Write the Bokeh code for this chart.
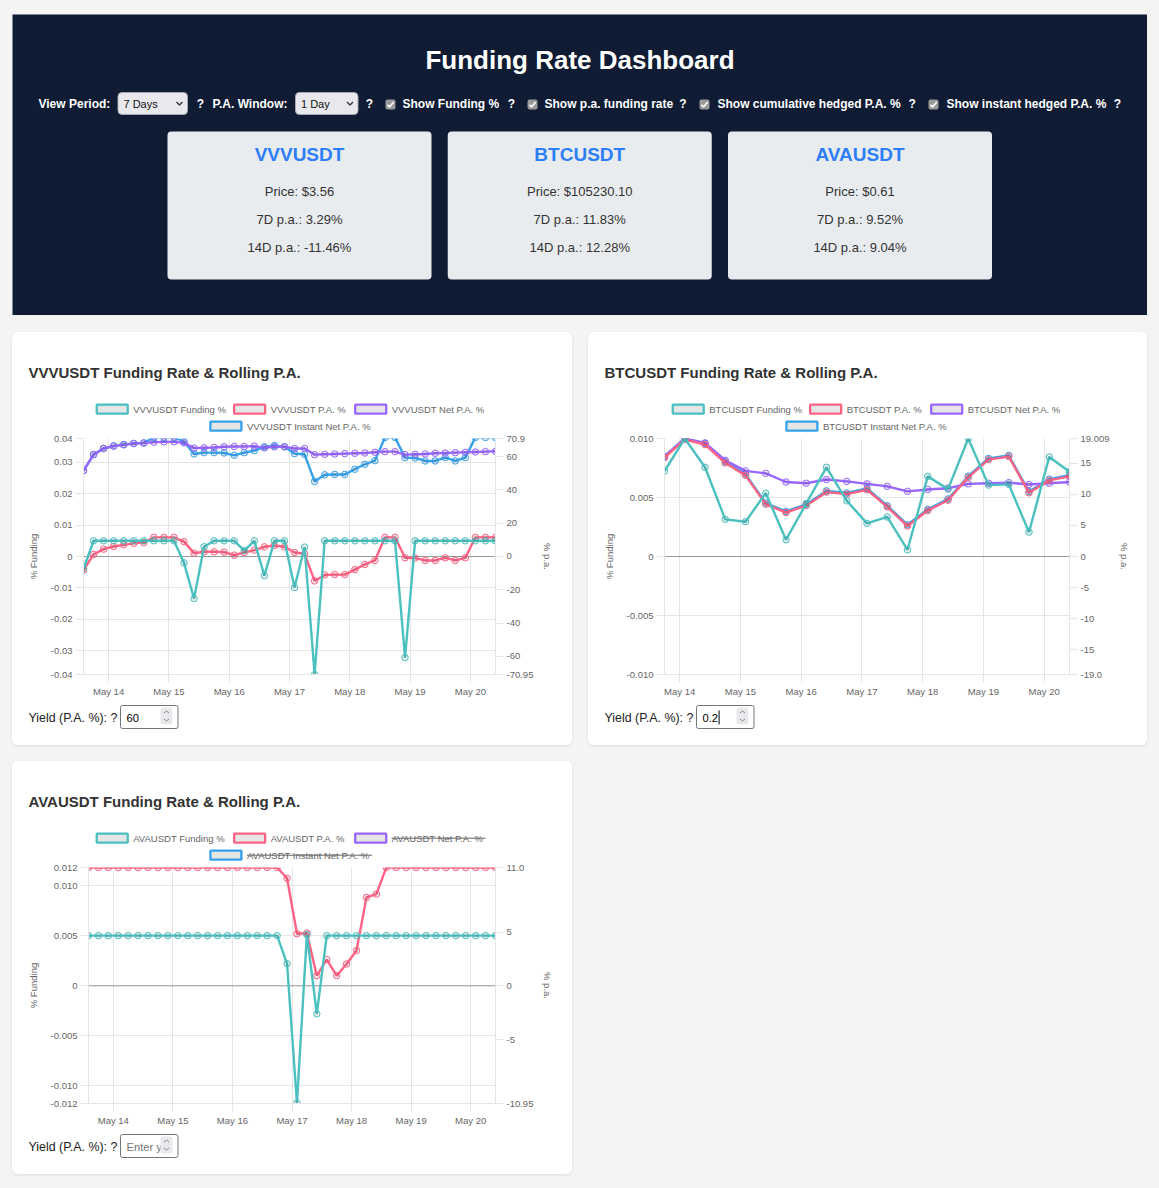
import pandas as pd
from bokeh.plotting import figure
from bokeh.layouts import column, row
from bokeh.models import (Range1d, LinearAxis, FixedTicker, DatetimeTickFormatter,
                          Span, Spacer, Plot)
from bokeh.core.properties import value
from bokeh.embed import file_html
from bokeh.resources import INLINE

FONT = "Liberation Sans"
GRID = "#e5e5e5"
TEAL, RED, PURPLE, BLUE = "#4bc0c0", "#ff6384", "#9966ff", "#36a2eb"
HAS_FA = "frame_align" in Plot.properties()
FA = {"frame_align": False} if HAS_FA else {}

# ------------------------------------------------------------------ data
symbols = ["VVVUSDT", "BTCUSDT", "AVAUSDT"]
prices = ["$3.56", "$105230.10", "$0.61"]
pa_7d = [3.29, 11.83, 9.52]
pa_14d = [-11.46, 12.28, 9.04]

view_period = "7 Days"
pa_window = "1 Day"
toggles = ["Show Funding %", "Show p.a. funding rate",
           "Show cumulative hedged P.A. %", "Show instant hedged P.A. %"]
yield_inputs = ["60", "0.2", ""]

vvv_time = pd.date_range("2025-05-13 14:00", "2025-05-20 10:00", freq="4h")
btc_time = pd.date_range("2025-05-13 18:00", "2025-05-20 10:00", freq="8h")
ava_time = pd.date_range("2025-05-13 14:00", "2025-05-20 10:00", freq="4h")
day_ticks = pd.date_range("2025-05-14", "2025-05-20", freq="D")

vvv_funding = [-0.0039, 0.005, 0.005, 0.005, 0.005, 0.005, 0.005, 0.005, 0.005, 0.005,
               -0.0020, -0.0134, 0.0031, 0.005, 0.005, 0.005, 0.0019, 0.005, -0.0061, 0.005,
               0.005, -0.0099, 0.0030, -0.0376, 0.005, 0.005, 0.005, 0.005, 0.005, 0.005,
               0.005, 0.005, -0.0322, 0.005, 0.005, 0.005, 0.005, 0.005, 0.005, 0.005,
               0.005, 0.005]
vvv_pa = [-8.3, 1.2, 4.4, 6.0, 7.0, 7.9, 8.3, 11.5, 11.5, 11.5,
          8.9, 2.0, 2.8, 2.8, 2.6, 0.8, 2.4, 3.8, 5.8, 6.6,
          5.8, 2.4, 1.6, -14.7, -11.1, -10.9, -10.9, -7.9, -4.8, -2.4,
          11.5, 11.5, -0.8, -1.0, -2.4, -2.4, -0.8, -2.4, -0.8, 11.5,
          11.5, 11.5]
vvv_net = [51.6, 61.2, 64.9, 66.3, 67.1, 67.9, 68.1, 68.7, 68.9, 68.9,
           68.3, 65.1, 65.3, 65.5, 65.9, 66.1, 66.1, 66.3, 65.3, 65.9,
           65.9, 64.9, 64.9, 61.2, 61.4, 61.6, 61.8, 62.0, 62.2, 62.6,
           63.0, 63.0, 61.2, 61.4, 61.6, 62.0, 62.2, 62.4, 62.6, 62.8,
           63.0, 63.2]
vvv_inst = [51.6, 61.2, 64.9, 66.5, 67.3, 67.9, 68.3, 71.5, 71.5, 71.5,
            69.1, 61.6, 62.4, 62.4, 62.2, 60.8, 62.4, 63.6, 65.9, 66.7,
            65.9, 61.8, 61.4, 45.1, 49.1, 49.3, 49.3, 52.4, 55.4, 57.6,
            71.5, 71.5, 59.4, 59.2, 57.4, 57.4, 59.4, 57.4, 59.4, 71.5,
            71.5, 71.5]

btc_funding = [0.00724, 0.0100, 0.00756, 0.00315, 0.00295, 0.00537, 0.00142, 0.00449,
               0.00756, 0.00472, 0.00281, 0.00335, 0.00057, 0.00679, 0.00571, 0.0100,
               0.00605, 0.00611, 0.00207, 0.00844, 0.00719]
btc_pa = [15.93, 18.85, 18.03, 15.07, 13.07, 8.42, 7.07, 8.21, 10.37, 10.04, 10.75,
          7.99, 4.91, 7.40, 9.07, 12.74, 15.60, 16.09, 10.26, 12.26, 12.91]
btc_net = [16.13, 19.0, 18.3, 15.5, 13.8, 13.4, 12.0, 11.8, 12.4, 12.1, 11.7,
           11.3, 10.5, 10.8, 11.0, 11.7, 11.8, 11.9, 11.6, 11.8, 12.0]
btc_inst = [16.13, 19.009, 18.23, 15.27, 13.27, 8.62, 7.27, 8.41, 10.57, 10.24, 10.95,
            8.19, 5.11, 7.60, 9.27, 12.94, 15.80, 16.29, 10.46, 12.46, 13.11]

ava_funding = [0.005, 0.005, 0.005, 0.005, 0.005, 0.005, 0.005, 0.005, 0.005, 0.005,
               0.005, 0.005, 0.005, 0.005, 0.005, 0.005, 0.005, 0.005, 0.005, 0.005,
               0.0022, -0.0117, 0.0051, -0.0028, 0.005, 0.005, 0.005, 0.005, 0.005, 0.005,
               0.005, 0.005, 0.005, 0.005, 0.005, 0.005, 0.005, 0.005, 0.005, 0.005,
               0.005, 0.005]
ava_pa = [11.0, 11.0, 11.0, 11.0, 11.0, 11.0, 11.0, 11.0, 11.0, 11.0,
          11.0, 11.0, 11.0, 11.0, 11.0, 11.0, 11.0, 11.0, 11.0, 11.0,
          10.0, 4.84, 4.9, 0.94, 2.44, 0.94, 2.03, 3.28, 8.22, 8.53,
          11.0, 11.0, 11.0, 11.0, 11.0, 11.0, 11.0, 11.0, 11.0, 11.0,
          11.0, 11.0]

vvv_left_ticks = [-0.0376, -0.03, -0.02, -0.01, 0.0, 0.01, 0.02, 0.03, 0.0376]
vvv_left_labels = ["-0.04", "-0.03", "-0.02", "-0.01", "0", "0.01", "0.02", "0.03", "0.04"]
vvv_right_ticks = [-70.95, -60.0, -40.0, -20.0, 0.0, 20.0, 40.0, 60.0, 70.9]
vvv_right_labels = ["-70.95", "-60", "-40", "-20", "0", "20", "40", "60", "70.9"]
btc_left_ticks = [-0.01, -0.005, 0.0, 0.005, 0.01]
btc_left_labels = ["-0.010", "-0.005", "0", "0.005", "0.010"]
btc_right_ticks = [-19.009, -15.0, -10.0, -5.0, 0.0, 5.0, 10.0, 15.0, 19.009]
btc_right_labels = ["-19.0", "-15", "-10", "-5", "0", "5", "10", "15", "19.009"]
ava_left_ticks = [-0.01175, -0.01, -0.005, 0.0, 0.005, 0.01, 0.0118]
ava_left_labels = ["-0.012", "-0.010", "-0.005", "0", "0.005", "0.010", "0.012"]
ava_right_ticks = [-10.95, -5.0, 0.0, 5.0, 11.0]
ava_right_labels = ["-10.95", "-5", "0", "5", "11.0"]

# ------------------------------------------------------------------ helpers
CW = {' ': 278, '%': 889, '.': 278, 'A': 667, 'B': 667, 'C': 722, 'D': 722, 'F': 611,
      'I': 278, 'N': 722, 'P': 667, 'S': 667, 'T': 611, 'U': 722, 'V': 667, 'a': 556,
      'd': 556, 'e': 556, 'g': 556, 'i': 222, 'n': 556, 's': 500, 't': 278, 'u': 556}


def tw(s, size):
    return sum(CW.get(c, 556) for c in s) * size / 1000.0


def pixel_fig(w, h, x0=0, y0=0, bg="white", lb=0, rb=0):
    if HAS_FA:
        lb = rb = 0
    return figure(width=w, height=h, x_range=Range1d(x0 + lb, x0 + w - rb),
                  y_range=Range1d(y0 + h, y0),
                  x_axis_type=None, y_axis_type=None, toolbar_location=None,
                  output_backend="svg", title=None, min_border_left=lb,
                  min_border_right=rb, min_border_top=0, min_border_bottom=0,
                  background_fill_color=bg, border_fill_color=bg,
                  outline_line_color=None, **FA)


def txt(p, x, y, s, size, color, bold=False, align="left"):
    p.text(x=[x], y=[y], text=[s], text_font=value(FONT), text_font_size=f"{size}px",
           text_font_style="bold" if bold else "normal", text_color=color,
           text_align=align, text_baseline="middle")


# ------------------------------------------------------------------ header
hdr = pixel_fig(1135, 301, x0=12, y0=14, bg="#0f1c33")
txt(hdr, 579.5, 59, "Funding Rate Dashboard", 26, "white", bold=True, align="center")
CY = 103.5


def select(p, l, r, label):
    p.quad(left=[l], right=[r], top=[92], bottom=[114], fill_color="#e9e9ed",
           line_color="#a9a9b3", line_width=1, border_radius=4)
    txt(p, l + 5.5, 103, label, 11, "#111")
    cx = r - 8
    p.line([cx - 3, cx, cx + 3], [101.5, 104.5, 101.5], line_color="#333", line_width=1.3)


def checkbox(p, cx):
    p.quad(left=[cx - 5], right=[cx + 5], top=[99], bottom=[109], fill_color="#9a9a9a",
           line_color=None, border_radius=2)
    p.line([cx - 3, cx - 1, cx + 3.2], [104.2, 106.5, 101.5], line_color="white", line_width=1.6)


txt(hdr, 38, CY, "View Period:", 12, "white", bold=True)
select(hdr, 117.5, 187, view_period)
txt(hdr, 200, CY, "?", 12, "white", bold=True, align="center")
txt(hdr, 212, CY, "P.A. Window:", 12, "white", bold=True)
select(hdr, 295, 357.5, pa_window)
txt(hdr, 369, CY, "?", 12, "white", bold=True, align="center")
cb_x = [390, 532, 704, 933]
lab_x = [402, 544, 717, 946]
q_x = [511, 682.5, 911.6, 1117]
for cx, lx, qx, lbl in zip(cb_x, lab_x, q_x, toggles):
    checkbox(hdr, cx)
    txt(hdr, lx, CY, lbl, 12, "white", bold=True)
    txt(hdr, qx, CY, "?", 12, "white", bold=True, align="center")

for i in range(3):
    l = 167 + 280.25 * i
    hdr.quad(left=[l], right=[l + 264], top=[131], bottom=[279], fill_color="#e9ecef",
             line_color=None, border_radius=4)
    cx = l + 132
    txt(hdr, cx, 154.3, symbols[i], 19, "#2d7ff9", bold=True, align="center")
    txt(hdr, cx, 190.7, f"Price: {prices[i]}", 13, "#333", align="center")
    txt(hdr, cx, 219.3, f"7D p.a.: {pa_7d[i]:.2f}%", 13, "#333", align="center")
    txt(hdr, cx, 246.7, f"14D p.a.: {pa_14d[i]:.2f}%", 13, "#333", align="center")


# ------------------------------------------------------------------ panels
def make_top(w, lb, rb, title, items):
    p = pixel_fig(w, 100, lb=lb, rb=rb)
    txt(p, 16, 39.7, title, 15, "#333", bold=True)
    cxl = 278.7
    for row_items, y in ((items[:3], 76.7), (items[3:], 93.7)):
        widths = [31 + 5.5 + tw(t, 9.5) for t, _, _ in row_items]
        total = sum(widths) + 8 * (len(widths) - 1)
        x = cxl - total / 2
        for (t, col, hidden), wd in zip(row_items, widths):
            p.quad(left=[x], right=[x + 31], top=[y - 4.5], bottom=[y + 4.5],
                   fill_color="#e6e6e6", line_color=col, line_width=2.3)
            tx = x + 36.5
            txt(p, tx, y, t, 9.5, "#666")
            if hidden:
                p.segment(x0=[tx], y0=[y], x1=[tx + tw(t, 9.5)], y1=[y],
                          line_color="#666", line_width=1)
            x += wd + 8
    return p


def make_bottom(w, lb, rb, val, cursor=False):
    p = pixel_fig(w, 43, lb=lb, rb=rb)
    txt(p, 16, 15, "Yield (P.A. %): ?", 12.4, "#222")
    p.quad(left=[108], right=[165.5], top=[3], bottom=[26], fill_color="white",
           line_color="#767676", line_width=1, border_radius=2)
    if val:
        txt(p, 114, 15, val, 11.2, "#000")
        if cursor:
            cxp = 114 + tw(val, 11.2) + 1
            p.segment(x0=[cxp], y0=[8], x1=[cxp], y1=[22], line_color="#000", line_width=1)
    else:
        txt(p, 114, 15, "Enter y", 11.2, "#757575")
    p.quad(left=[148], right=[160], top=[5], bottom=[22], fill_color="#e9e9ed",
           line_color=None, border_radius=2)
    p.line([151.5, 154, 156.5], [10.5, 8.5, 10.5], line_color="#888", line_width=1)
    p.line([151.5, 154, 156.5], [16.5, 18.5, 16.5], line_color="#888", line_width=1)
    return p


def style_axis(ax):
    ax.axis_line_color = GRID
    ax.major_tick_line_color = GRID
    ax.major_tick_out = 8
    ax.major_tick_in = 0
    ax.minor_tick_line_color = None
    ax.major_label_text_font = FONT
    ax.major_label_text_font_size = "9.5px"
    ax.major_label_text_color = "#666"
    ax.major_label_standoff = 3
    ax.axis_label_text_font = FONT
    ax.axis_label_text_font_size = "9.5px"
    ax.axis_label_text_color = "#666"
    ax.axis_label_text_font_style = "normal"


def make_chart(w, lb, rb, times, lt, ll, rt, rl, series):
    x0 = times[0].value / 1e6
    x1 = times[-1].value / 1e6
    p = figure(width=w, height=270, x_axis_type="datetime", title=None,
               toolbar_location=None, output_backend="svg",
               x_range=Range1d(x0, x1), y_range=Range1d(lt[0], lt[-1]),
               min_border_left=lb, min_border_right=rb, min_border_top=6,
               min_border_bottom=28, background_fill_color="white",
               border_fill_color="white", outline_line_color=None, **FA)
    p.extra_y_ranges = {"pa": Range1d(rt[0], rt[-1])}
    axr = LinearAxis(y_range_name="pa", axis_label="% p.a.")
    p.add_layout(axr, "right")
    axl = p.left[0]
    axx = p.below[0]
    for ax in (axl, axr, axx):
        style_axis(ax)
    xt = FixedTicker(ticks=[t.value / 1e6 for t in day_ticks])
    axx.ticker = xt
    p.xgrid.ticker = xt
    axx.formatter = DatetimeTickFormatter(days="%b %d", hours="%b %d", months="%b %d",
                                          hourmin="%b %d")
    ltk = FixedTicker(ticks=lt)
    axl.ticker = ltk
    p.ygrid.ticker = ltk
    axl.major_label_overrides = {float(t): s for t, s in zip(lt, ll)}
    axl.axis_label = "% Funding"
    axl.axis_label_standoff = 9
    axr.ticker = FixedTicker(ticks=rt)
    axr.major_label_overrides = {float(t): s for t, s in zip(rt, rl)}
    axr.axis_label_standoff = 6
    p.xgrid.grid_line_color = GRID
    p.ygrid.grid_line_color = GRID
    p.add_layout(Span(location=0, dimension="width", line_color="#999",
                      line_width=1, level="underlay"))
    for y, col, rng in series:
        p.line(times, y, line_color=col, line_width=2.4, y_range_name=rng)
        p.scatter(times, y, size=6.5, marker="circle", line_color=col, fill_color="black",
                  fill_alpha=0.08, line_width=1, y_range_name=rng)
    return p


PANEL_STYLE = {"border-radius": "6px", "overflow": "hidden", "background-color": "white",
               "box-shadow": "0 1px 3px rgba(0,0,0,0.10)"}


def legend_items(sym, hidden_extra=False):
    return [(f"{sym} Funding %", TEAL, False), (f"{sym} P.A. %", RED, False),
            (f"{sym} Net P.A. %", PURPLE, hidden_extra),
            (f"{sym} Instant Net P.A. %", BLUE, hidden_extra)]


def make_panel(w, lb, rb, sym, chart, val, hidden_extra=False, cursor=False):
    top = make_top(w, lb, rb, f"{sym} Funding Rate & Rolling P.A.",
                   legend_items(sym, hidden_extra))
    bottom = make_bottom(w, lb, rb, val, cursor)
    return column(top, chart, bottom, styles=PANEL_STYLE)


vvv_chart = make_chart(560, 71, 77, vvv_time, vvv_left_ticks, vvv_left_labels,
                       vvv_right_ticks, vvv_right_labels,
                       [(vvv_inst, BLUE, "pa"), (vvv_net, PURPLE, "pa"),
                        (vvv_pa, RED, "pa"), (vvv_funding, TEAL, "default")])
btc_chart = make_chart(559, 76, 78, btc_time, btc_left_ticks, btc_left_labels,
                       btc_right_ticks, btc_right_labels,
                       [(btc_inst, BLUE, "pa"), (btc_net, PURPLE, "pa"),
                        (btc_pa, RED, "pa"), (btc_funding, TEAL, "default")])
ava_chart = make_chart(560, 76, 77, ava_time, ava_left_ticks, ava_left_labels,
                       ava_right_ticks, ava_right_labels,
                       [(ava_pa, RED, "pa"), (ava_funding, TEAL, "default")])

panel1 = make_panel(560, 71, 77, symbols[0], vvv_chart, yield_inputs[0])
panel2 = make_panel(559, 76, 78, symbols[1], btc_chart, yield_inputs[1], cursor=True)
panel3 = make_panel(560, 76, 77, symbols[2], ava_chart, yield_inputs[2], hidden_extra=True)

page = column(
    Spacer(height=14),
    row(Spacer(width=12), hdr),
    Spacer(height=17),
    row(Spacer(width=12), panel1, Spacer(width=16), panel2),
    Spacer(height=16),
    row(Spacer(width=12), panel3),
    width=1159, height=1188,
    styles={"background-color": "#f4f4f4"},
)

open("out.html", "w").write(file_html(page, INLINE))
